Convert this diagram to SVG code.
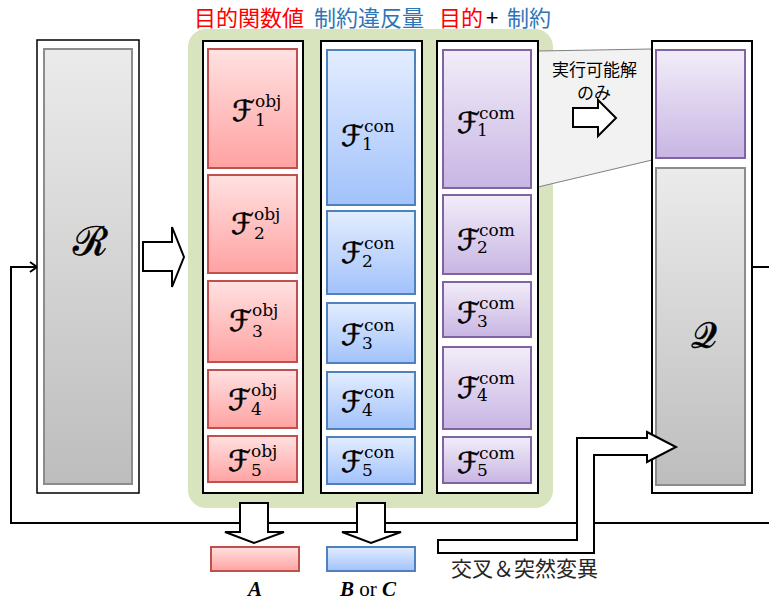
<svg xmlns="http://www.w3.org/2000/svg" width="769" height="602" viewBox="0 0 769 602">
<style>
.jp{font-family:"Noto Sans CJK JP","Noto Sans",sans-serif}
.col{fill:#fff;stroke:#000;stroke-width:2}
.red{fill:url(#gRed);stroke:#c0504d;stroke-width:2}
.blue{fill:url(#gBlue);stroke:#4f81bd;stroke-width:2}
.pur{fill:url(#gPur);stroke:#8064a2;stroke-width:2}
.gray{fill:url(#gGray);stroke:#8c8c8c;stroke-width:2}
.F{font-family:"DejaVu Serif","DejaVu Sans",serif;font-size:29px;fill:#000;stroke:#000;stroke-width:0.6}
.s{font-family:"DejaVu Serif",serif;font-size:17px;fill:#000;stroke:none}
.ln{fill:none;stroke:#000;stroke-width:2}
.big{fill:#fff;stroke:#000;stroke-width:2;stroke-linejoin:miter}
</style>
<defs>
<linearGradient id="gRed" x1="0" y1="0" x2="0" y2="1"><stop offset="0" stop-color="#ffe1e1"/><stop offset="1" stop-color="#ffa2a2"/></linearGradient>
<linearGradient id="gBlue" x1="0" y1="0" x2="0" y2="1"><stop offset="0" stop-color="#e3edff"/><stop offset="1" stop-color="#a2c2fb"/></linearGradient>
<linearGradient id="gPur" x1="0" y1="0" x2="0" y2="1"><stop offset="0" stop-color="#f2edf9"/><stop offset="1" stop-color="#c8b5e3"/></linearGradient>
<linearGradient id="gGray" x1="0" y1="0" x2="0" y2="1"><stop offset="0" stop-color="#ebebeb"/><stop offset="1" stop-color="#bdbdbd"/></linearGradient>
</defs>
<rect width="769" height="602" fill="#fff"/>

<g id="connectors">
<polyline class="ln" points="769,523 11,523 11,267 37,267"/>
<polyline class="ln" points="30,262 37,267 30,272"/>
<line class="ln" x1="752" y1="267" x2="769" y2="267"/>
</g>

<g id="header">
<text class="jp" x="194" y="26" font-size="22" fill="#ff0000">目的関数値</text>
<text class="jp" x="314" y="26" font-size="22" fill="#2e75b6">制約違反量</text>
<text class="jp" x="439" y="26" font-size="22" fill="#ff0000">目的</text>
<text class="jp" x="486" y="26" font-size="22" fill="#000">+</text>
<text class="jp" x="507" y="26" font-size="22" fill="#2e75b6">制約</text>
</g>

<g id="R">
<rect x="37" y="40" width="102" height="453" fill="#fff" stroke="#000" stroke-width="1.5"/>
<rect class="gray" x="44" y="49" width="88" height="435"/>
<text x="90" y="255" text-anchor="middle" font-family="DejaVu Serif,serif" font-size="40" stroke="#000" stroke-width="0.6">ℛ</text>
</g>

<polygon class="big" points="143,242 172,242 172,227 184,257 172,287 172,271 143,271"/>

<g id="population">
<rect x="188" y="29" width="365" height="479" rx="18" fill="#d7e4bd"/>
<polygon points="538,51 652,49 652,160 538,187" fill="#f2f2f2" stroke="#808080" stroke-width="1"/>
<text class="jp" font-size="17" fill="#000"><tspan x="552" y="76">実行可能解</tspan><tspan x="577" y="99">のみ</tspan></text>
<polygon class="big" points="573,108 598,108 598,100 616,118 598,136 598,127 573,127"/>

<g id="col-obj">
<rect class="col" x="203" y="41" width="100" height="452"/>
<rect class="red" x="208" y="49" width="89" height="119"/>
<rect class="red" x="208" y="175" width="89" height="98"/>
<rect class="red" x="208" y="281" width="89" height="81"/>
<rect class="red" x="208" y="370" width="89" height="58"/>
<rect class="red" x="208" y="436" width="89" height="46"/>
<text class="F" x="232" y="121">ℱ<tspan class="s" x="255" y="107">obj</tspan><tspan class="s" x="255" y="126">1</tspan></text>
<text class="F" x="231" y="234">ℱ<tspan class="s" x="254" y="220">obj</tspan><tspan class="s" x="254" y="239">2</tspan></text>
<text class="F" x="229" y="331">ℱ<tspan class="s" x="252" y="316">obj</tspan><tspan class="s" x="252" y="337">3</tspan></text>
<text class="F" x="228" y="410">ℱ<tspan class="s" x="251" y="396">obj</tspan><tspan class="s" x="251" y="415">4</tspan></text>
<text class="F" x="228" y="471">ℱ<tspan class="s" x="251" y="457">obj</tspan><tspan class="s" x="251" y="476">5</tspan></text>
</g>

<g id="col-con">
<rect class="col" x="321" y="41" width="101" height="452"/>
<rect class="blue" x="327" y="50" width="88" height="155"/>
<rect class="blue" x="327" y="211" width="88" height="83"/>
<rect class="blue" x="327" y="303" width="88" height="60"/>
<rect class="blue" x="327" y="372" width="88" height="57"/>
<rect class="blue" x="327" y="437" width="88" height="47"/>
<text class="F" x="341" y="146">ℱ<tspan class="s" x="364" y="132">con</tspan><tspan class="s" x="362" y="150">1</tspan></text>
<text class="F" x="341" y="263">ℱ<tspan class="s" x="364" y="249">con</tspan><tspan class="s" x="362" y="267">2</tspan></text>
<text class="F" x="341" y="345">ℱ<tspan class="s" x="364" y="331">con</tspan><tspan class="s" x="362" y="349">3</tspan></text>
<text class="F" x="341" y="412">ℱ<tspan class="s" x="364" y="398">con</tspan><tspan class="s" x="362" y="416">4</tspan></text>
<text class="F" x="341" y="472">ℱ<tspan class="s" x="364" y="458">con</tspan><tspan class="s" x="362" y="476">5</tspan></text>
</g>

<g id="col-com">
<rect class="col" x="437" y="41" width="101" height="452"/>
<rect class="pur" x="443" y="50" width="88" height="138"/>
<rect class="pur" x="443" y="195" width="88" height="79"/>
<rect class="pur" x="443" y="282" width="88" height="55"/>
<rect class="pur" x="443" y="347" width="88" height="82"/>
<rect class="pur" x="443" y="437" width="88" height="46"/>
<text class="F" x="457" y="133">ℱ<tspan class="s" x="479" y="119">com</tspan><tspan class="s" x="477" y="136">1</tspan></text>
<text class="F" x="457" y="250">ℱ<tspan class="s" x="479" y="236">com</tspan><tspan class="s" x="477" y="253">2</tspan></text>
<text class="F" x="457" y="323">ℱ<tspan class="s" x="479" y="309">com</tspan><tspan class="s" x="477" y="327">3</tspan></text>
<text class="F" x="457" y="398">ℱ<tspan class="s" x="479" y="384">com</tspan><tspan class="s" x="477" y="401">4</tspan></text>
<text class="F" x="457" y="473">ℱ<tspan class="s" x="479" y="459">com</tspan><tspan class="s" x="477" y="476">5</tspan></text>
</g>
</g>

<g id="Q">
<rect x="652" y="41" width="100" height="452" fill="#fff" stroke="#000" stroke-width="2"/>
<rect class="pur" x="656" y="50" width="89" height="108"/>
<rect class="gray" x="656" y="168" width="89" height="317"/>
<text x="704" y="348" text-anchor="middle" font-family="DejaVu Serif,serif" font-size="36" stroke="#000" stroke-width="0.6">𝒬</text>
</g>

<g id="outputs">
<polygon class="big" points="240,503 268,503 268,532 284,532 254,543 225,532 240,532"/>
<polygon class="big" points="357,503 385,503 385,532 401,532 371,543 342,532 357,532"/>
<rect class="red" x="211" y="547" width="88" height="24"/>
<rect class="blue" x="327" y="547" width="88" height="24"/>
<text x="255" y="596" text-anchor="middle" font-family="Liberation Serif,serif" font-size="21" font-style="italic" font-weight="bold">A</text>
<text x="368" y="596" text-anchor="middle" font-family="Liberation Serif,serif" font-size="21"><tspan font-style="italic" font-weight="bold">B</tspan> or <tspan font-style="italic" font-weight="bold">C</tspan></text>
</g>

<g id="crossover">
<path class="big" d="M438,540 L577,540 L577,438 L647,438 L647,432 L676,447 L647,462 L647,455 L594,455 L594,553 L438,553 Z"/>
<text class="jp" x="451" y="576" font-size="21" fill="#262626">交叉＆突然変異</text>
</g>
</svg>
